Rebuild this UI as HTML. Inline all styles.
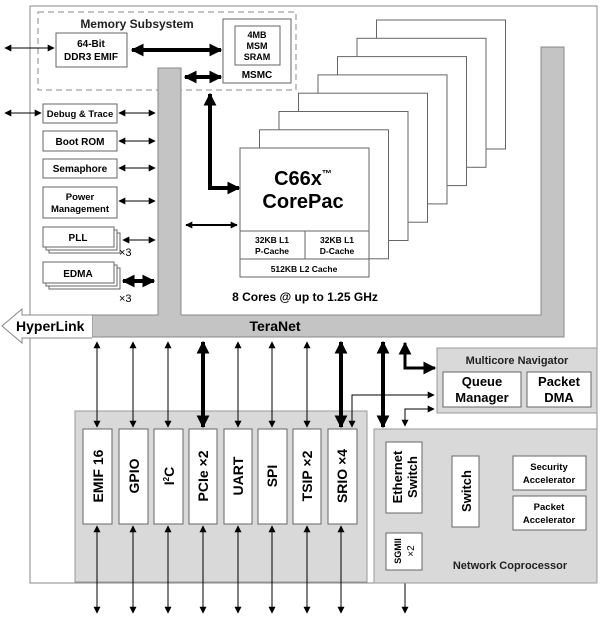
<!DOCTYPE html>
<html><head><meta charset="utf-8"><style>
html,body{margin:0;padding:0;background:#fff;}
svg{display:block;font-family:"Liberation Sans",Arial,sans-serif;font-weight:bold;}
</style></head><body>
<svg width="616" height="617" viewBox="0 0 616 617" xmlns="http://www.w3.org/2000/svg">
<defs>
<marker id="a" viewBox="0 0 10 10" refX="9" refY="5" markerWidth="7" markerHeight="7" markerUnits="userSpaceOnUse" orient="auto-start-reverse"><path d="M0,0L10,5L0,10z" fill="#000"/></marker>
<marker id="b" viewBox="0 0 10 10" refX="9" refY="5" markerWidth="13" markerHeight="13" markerUnits="userSpaceOnUse" orient="auto-start-reverse"><path d="M0,0L10,5L0,10z" fill="#000"/></marker>
</defs>
<!-- outer frame -->
<rect x="30" y="6" width="567" height="577" fill="#fff" stroke="#888" stroke-width="1"/>
<!-- memory subsystem dashed -->
<rect x="38" y="12" width="258" height="78" fill="none" stroke="#888" stroke-dasharray="6,4"/>
<text x="137" y="28" font-size="12" text-anchor="middle" fill="#222">Memory Subsystem</text>
<rect x="56" y="33" width="71" height="34" fill="#fff" stroke="#666"/>
<text x="91" y="47" font-size="10" text-anchor="middle">64-Bit</text>
<text x="91" y="60" font-size="10" text-anchor="middle">DDR3 EMIF</text>
<rect x="223" y="19" width="68" height="64" fill="#fff" stroke="#666"/>
<rect x="235" y="26" width="45" height="39" fill="#fff" stroke="#666"/>
<text x="257" y="38" font-size="9" text-anchor="middle">4MB</text>
<text x="257" y="49" font-size="9" text-anchor="middle">MSM</text>
<text x="257" y="60" font-size="9" text-anchor="middle">SRAM</text>
<text x="257" y="78" font-size="10" text-anchor="middle">MSMC</text>
<!-- TeraNet bars -->
<path d="M158,68H181V315H541V47H564V337H92V315H158Z" fill="#c4c4c4" stroke="#888"/>
<path d="M92,315H22V309L2,326L22,343V338H92" fill="#fff" stroke="#888"/>
<text x="16" y="331" font-size="14">HyperLink</text>
<text x="275" y="331" font-size="14" text-anchor="middle">TeraNet</text>
<!-- stacked cores -->
<g fill="#fff" stroke="#666">
<rect x="376.5" y="20" width="129" height="129"/>
<rect x="357" y="38.3" width="129" height="129"/>
<rect x="337.5" y="56.6" width="129" height="129"/>
<rect x="318" y="74.9" width="129" height="129"/>
<rect x="298.5" y="93.2" width="129" height="129"/>
<rect x="279" y="111.5" width="129" height="129"/>
<rect x="259.5" y="129.8" width="129" height="129"/>
<rect x="240" y="148" width="129" height="129"/>
<line x1="240" y1="231" x2="369" y2="231"/>
<line x1="240" y1="259" x2="369" y2="259"/>
<line x1="305" y1="231" x2="305" y2="259"/>
</g>
<text x="303" y="185" font-size="20" text-anchor="middle">C66x<tspan font-size="10" dy="-8">™</tspan></text>
<text x="303" y="208" font-size="20" text-anchor="middle">CorePac</text>
<text x="272" y="243" font-size="8.5" text-anchor="middle">32KB L1</text>
<text x="272" y="254" font-size="8.5" text-anchor="middle">P-Cache</text>
<text x="337" y="243" font-size="8.5" text-anchor="middle">32KB L1</text>
<text x="337" y="254" font-size="8.5" text-anchor="middle">D-Cache</text>
<text x="304" y="272" font-size="8.5" text-anchor="middle">512KB L2 Cache</text>
<text x="305" y="301" font-size="12" text-anchor="middle">8 Cores @ up to 1.25 GHz</text>
<!-- left blocks -->
<g fill="#fff" stroke="#666">
<rect x="43" y="104" width="74" height="19"/>
<rect x="43" y="131" width="74" height="20"/>
<rect x="43" y="159" width="74" height="19"/>
<rect x="43" y="187" width="74" height="31"/>
<rect x="49" y="233" width="71" height="20"/><rect x="46" y="230" width="71" height="20"/><rect x="43" y="227" width="71" height="20"/>
<rect x="49" y="268" width="71" height="21"/><rect x="46" y="265" width="71" height="21"/><rect x="43" y="262" width="71" height="21"/>
</g>
<text x="80" y="117" font-size="9.5" text-anchor="middle">Debug &amp; Trace</text>
<text x="80" y="145" font-size="10" text-anchor="middle">Boot ROM</text>
<text x="80" y="172" font-size="10" text-anchor="middle">Semaphore</text>
<text x="80" y="200" font-size="9.5" text-anchor="middle">Power</text>
<text x="80" y="212" font-size="9.5" text-anchor="middle">Management</text>
<text x="78" y="241" font-size="10" text-anchor="middle">PLL</text>
<text x="78" y="277" font-size="10" text-anchor="middle">EDMA</text>
<text x="119" y="256" font-size="11" font-weight="normal">×3</text>
<text x="119" y="302" font-size="11" font-weight="normal">×3</text>
<!-- thin arrows left -->
<g stroke="#000" stroke-width="1" marker-start="url(#a)" marker-end="url(#a)">
<line x1="5" y1="48" x2="54" y2="48"/>
<line x1="5" y1="113" x2="41" y2="113"/>
<line x1="119" y1="113" x2="155" y2="113"/>
<line x1="119" y1="141" x2="155" y2="141"/>
<line x1="119" y1="168" x2="155" y2="168"/>
<line x1="119" y1="201" x2="155" y2="201"/>
<line x1="123" y1="240" x2="155" y2="240"/>
</g>
<!-- thick arrows -->
<g stroke="#000" stroke-width="4" fill="none" marker-start="url(#b)" marker-end="url(#b)">
<line x1="132" y1="50" x2="221" y2="50"/>
<line x1="185" y1="77" x2="221" y2="77"/>
<polyline points="210,94 210,188 239,188"/>
<line x1="123" y1="281" x2="154" y2="281"/>
</g>
<line x1="186" y1="225" x2="237" y2="225" stroke="#000" stroke-width="2" marker-start="url(#a)" marker-end="url(#a)"/>
<!-- peripheral area -->
<rect x="75" y="411" width="292" height="171" fill="#d9d9d9" stroke="#999"/>
<g fill="#fff" stroke="#666">
<rect x="83" y="429" width="29" height="95"/>
<rect x="119" y="429" width="29" height="95"/>
<rect x="154" y="429" width="29" height="95"/>
<rect x="189" y="429" width="28" height="95"/>
<rect x="224" y="429" width="28" height="95"/>
<rect x="258" y="429" width="29" height="95"/>
<rect x="293" y="429" width="28" height="95"/>
<rect x="328" y="429" width="29" height="95"/>
</g>
<g font-size="14" text-anchor="middle">
<text transform="translate(103,476) rotate(-90)">EMIF 16</text>
<text transform="translate(139,476) rotate(-90)">GPIO</text>
<text transform="translate(174,476) rotate(-90)">I<tspan font-size="8" dy="-5">2</tspan><tspan dy="5">C</tspan></text>
<text transform="translate(208,476) rotate(-90)">PCIe ×2</text>
<text transform="translate(243,476) rotate(-90)">UART</text>
<text transform="translate(277,476) rotate(-90)">SPI</text>
<text transform="translate(312,476) rotate(-90)">TSIP ×2</text>
<text transform="translate(347,476) rotate(-90)">SRIO ×4</text>
</g>
<g stroke="#000" stroke-width="1" marker-start="url(#a)" marker-end="url(#a)">
<line x1="97" y1="342" x2="97" y2="427"/><line x1="133" y1="342" x2="133" y2="427"/>
<line x1="168" y1="342" x2="168" y2="427"/><line x1="238" y1="342" x2="238" y2="427"/>
<line x1="272" y1="342" x2="272" y2="427"/><line x1="307" y1="342" x2="307" y2="427"/>
<line x1="97" y1="526" x2="97" y2="613"/><line x1="133" y1="526" x2="133" y2="613"/>
<line x1="168" y1="526" x2="168" y2="613"/><line x1="203" y1="526" x2="203" y2="613"/>
<line x1="238" y1="526" x2="238" y2="613"/><line x1="272" y1="526" x2="272" y2="613"/>
<line x1="307" y1="526" x2="307" y2="613"/><line x1="341" y1="526" x2="341" y2="613"/>
<line x1="405" y1="572" x2="405" y2="613"/>
<line x1="405" y1="515" x2="405" y2="531"/>
<line x1="425" y1="492" x2="449" y2="492"/>
<line x1="482" y1="473" x2="511" y2="473"/>
<line x1="482" y1="512" x2="511" y2="512"/>
</g>
<g stroke="#000" stroke-width="4" marker-start="url(#b)" marker-end="url(#b)" fill="none">
<line x1="203" y1="342" x2="203" y2="427"/>
<line x1="341" y1="342" x2="341" y2="427"/>
<line x1="383" y1="342" x2="383" y2="427"/>
</g>
<polyline points="405,343 405,368 435,368" stroke="#000" stroke-width="3" fill="none" marker-start="url(#b)" marker-end="url(#b)"/>
<polyline points="352,427 352,395 434,395" stroke="#000" stroke-width="1" fill="none" marker-start="url(#a)" marker-end="url(#a)"/>
<polyline points="405,426 405,409 434,409" stroke="#000" stroke-width="1" fill="none" marker-start="url(#a)" marker-end="url(#a)"/>
<!-- multicore navigator -->
<rect x="437" y="348" width="160" height="65" fill="#d9d9d9" stroke="#999"/>
<text x="517" y="364" font-size="11" text-anchor="middle" fill="#222">Multicore Navigator</text>
<rect x="443" y="372" width="78" height="35" fill="#fff" stroke="#666"/>
<rect x="527" y="372" width="64" height="35" fill="#fff" stroke="#666"/>
<text x="482" y="386" font-size="13" text-anchor="middle">Queue</text>
<text x="482" y="402" font-size="13" text-anchor="middle">Manager</text>
<text x="559" y="386" font-size="13" text-anchor="middle">Packet</text>
<text x="559" y="402" font-size="13" text-anchor="middle">DMA</text>
<!-- network coprocessor -->
<rect x="374" y="429" width="223" height="154" fill="#d9d9d9" stroke="#999"/>
<g fill="#fff" stroke="#666">
<rect x="386" y="442" width="36" height="71"/>
<rect x="386" y="533" width="36" height="37"/>
<rect x="452" y="456" width="27" height="71"/>
<rect x="513" y="456" width="73" height="34"/>
<rect x="513" y="496" width="73" height="34"/>
</g>
<text transform="translate(402,477) rotate(-90)" font-size="13" text-anchor="middle">Ethernet</text>
<text transform="translate(417,477) rotate(-90)" font-size="13" text-anchor="middle">Switch</text>
<text transform="translate(471,491) rotate(-90)" font-size="13" text-anchor="middle">Switch</text>
<text transform="translate(401,551) rotate(-90)" font-size="9" text-anchor="middle">SGMII</text>
<text transform="translate(414,551) rotate(-90)" font-size="10" font-weight="normal" text-anchor="middle">×2</text>
<text x="549" y="470" font-size="9.5" text-anchor="middle">Security</text>
<text x="549" y="483" font-size="9.5" text-anchor="middle">Accelerator</text>
<text x="549" y="510" font-size="9.5" text-anchor="middle">Packet</text>
<text x="549" y="523" font-size="9.5" text-anchor="middle">Accelerator</text>
<text x="510" y="569" font-size="11" text-anchor="middle" fill="#222">Network Coprocessor</text>
</svg>
</body></html>
